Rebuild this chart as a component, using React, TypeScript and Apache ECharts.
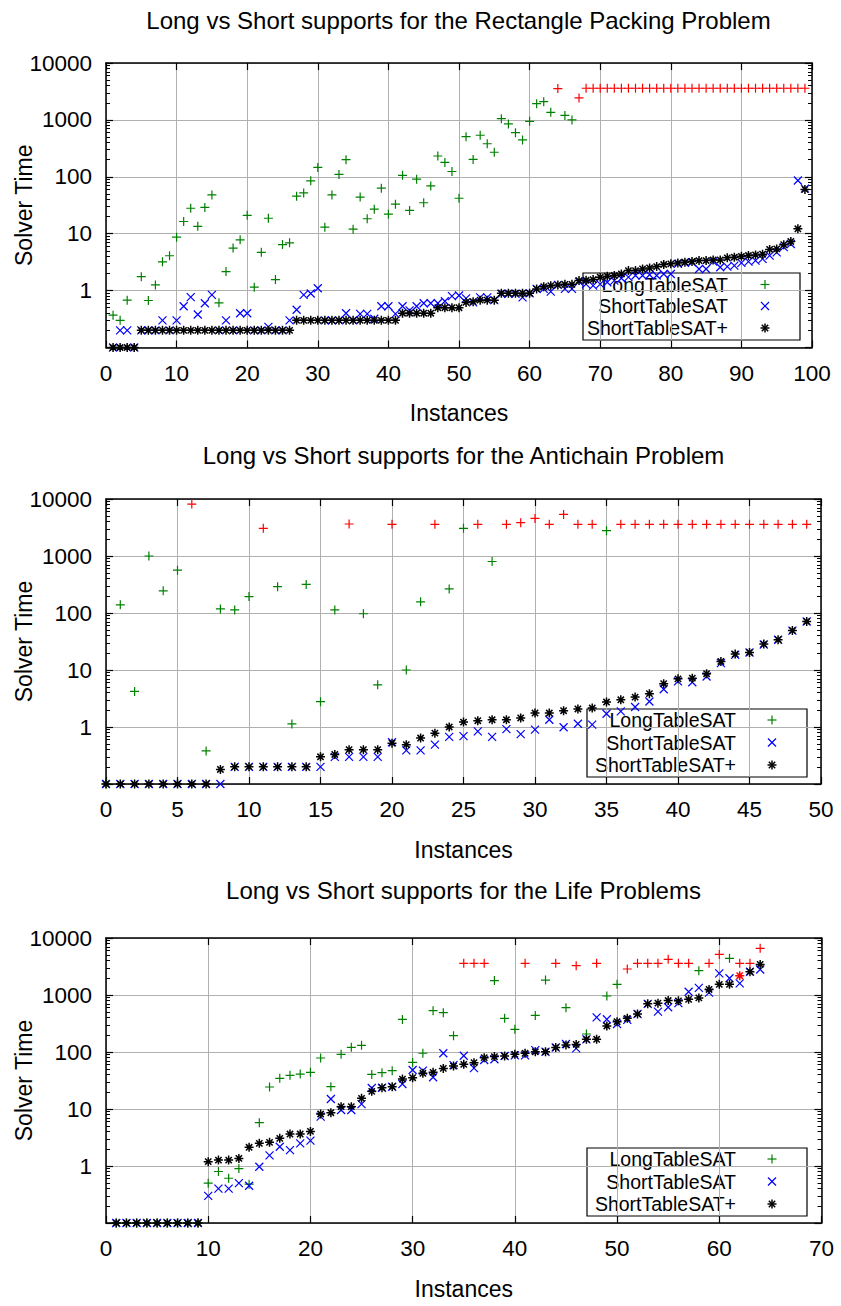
import React, { useEffect, useRef } from "react";
import * as echarts from "echarts";

const FONT = '"Liberation Sans", Arial, Helvetica, sans-serif';

const SERIES_NAMES = ["LongTableSAT", "ShortTableSAT", "ShortTableSAT+"];
const TITLES = [
  "Long vs Short supports for the Rectangle Packing Problem",
  "Long vs Short supports for the Antichain Problem",
  "Long vs Short supports for the Life Problems",
];
const X_LABEL = "Instances";
const Y_LABEL = "Solver Time";
const Y_MIN = 0.1;
const Y_MAX = 10000;

// ---------- Rectangle Packing (instances 1..99) ----------
const RECT_FIRST = 1;
const RECT_X_MAX = 100;
const RECT_X_STEP = 10;
const RECT_LONG = [
  0.37, 0.3, 0.68, 0.1, 1.76, 0.67, 1.26, 3.2, 4.1, 8.7,
  16.4, 28, 13.5, 29, 48, 0.61, 2.16, 5.6, 7.8, 21,
  1.15, 4.7, 18.7, 1.56, 6.45, 6.9, 45.7, 52, 85, 146,
  13, 48, 110, 200, 12, 44, 18.3, 27, 63, 22,
  33, 106, 25.6, 91, 35, 69, 232, 179, 124, 42,
  507, 202, 537, 381, 270, 1050, 850, 597, 444, 945,
  1930, 2090, 1360, 3550, 1200, 1000, 2430, 3600, 3600, 3600,
  3600, 3600, 3600, 3600, 3600, 3600, 3600, 3600, 3600, 3600,
  3600, 3600, 3600, 3600, 3600, 3600, 3600, 3600, 3600, 3600,
  3600, 3600, 3600, 3600, 3600, 3600, 3600, 3600, 3600,
];
const RECT_LONG_TIMEOUTS = [
  64, 67, 68, 69, 70, 71, 72, 73, 74, 75, 76, 77, 78, 79, 80, 81, 82, 83, 84,
  85, 86, 87, 88, 89, 90, 91, 92, 93, 94, 95, 96, 97, 98, 99,
];
const RECT_SHORT = [
  0.1, 0.2, 0.2, 0.1, 0.2, 0.2, 0.2, 0.3, 0.2, 0.3,
  0.53, 0.77, 0.38, 0.6, 0.84, 0.2, 0.3, 0.2, 0.4, 0.4,
  0.2, 0.2, 0.23, 0.2, 0.2, 0.3, 0.46, 0.84, 0.89, 1.1,
  0.3, 0.3, 0.3, 0.4, 0.3, 0.39, 0.39, 0.32, 0.53, 0.53,
  0.39, 0.53, 0.45, 0.53, 0.6, 0.6, 0.6, 0.65, 0.8, 0.82,
  0.73, 0.62, 0.76, 0.76, 0.68, 0.88, 0.88, 0.88, 0.76, 0.9,
  1.07, 1.07, 0.96, 1.26, 1.07, 1.07, 1.44, 1.3, 1.22, 1.3,
  1.4, 1.5, 1.65, 1.72, 1.84, 1.84, 1.9, 1.84, 1.96, 1.96,
  2.95, 3.07, 3.15, 2.4, 2.4, 3.24, 2.57, 2.64, 2.75, 3.07,
  3.24, 3.37, 3.6, 4.13, 4.7, 5.8, 6.6, 86, 62,
];
const RECT_SHORT_PLUS = [
  0.1, 0.1, 0.1, 0.1, 0.2, 0.2, 0.2, 0.2, 0.2, 0.2,
  0.2, 0.2, 0.2, 0.2, 0.2, 0.2, 0.2, 0.2, 0.2, 0.2,
  0.2, 0.2, 0.2, 0.2, 0.2, 0.2, 0.3, 0.3, 0.3, 0.3,
  0.3, 0.3, 0.3, 0.3, 0.3, 0.3, 0.3, 0.3, 0.3, 0.3,
  0.3, 0.4, 0.4, 0.4, 0.4, 0.4, 0.5, 0.5, 0.5, 0.5,
  0.62, 0.64, 0.68, 0.68, 0.68, 0.9, 0.9, 0.9, 0.9, 0.9,
  1.07, 1.17, 1.22, 1.26, 1.29, 1.29, 1.5, 1.52, 1.56, 1.72,
  1.79, 1.84, 1.96, 2.25, 2.25, 2.4, 2.5, 2.64, 2.87, 2.95,
  3.07, 3.15, 3.24, 3.37, 3.37, 3.46, 3.46, 3.76, 3.86, 4.0,
  4.13, 4.24, 4.36, 5.3, 5.4, 6.4, 7.3, 12.2, 60,
];
const RECT_SHORT_PLUS_TIMEOUTS: number[] = [];

// ---------- Antichain (instances 0..49) ----------
const ANTI_FIRST = 0;
const ANTI_X_MAX = 50;
const ANTI_X_STEP = 5;
const ANTI_LONG = [
  0.1, 139, 4.2, 1000, 245, 563, 8140, 0.38, 118, 113,
  194, 3060, 290, 1.13, 317, 2.78, 113, 3640, 97, 5.5,
  3600, 10, 157, 3600, 265, 3060, 3600, 800, 3600, 3840,
  4570, 3600, 5370, 3600, 3600, 2780, 3600, 3600, 3600, 3600,
  3600, 3600, 3600, 3600, 3600, 3600, 3600, 3600, 3600, 3600,
];
const ANTI_LONG_TIMEOUTS = [
  6, 11, 17, 20, 23, 26, 28, 29, 30, 31, 32, 33, 34, 36, 37, 38, 39, 40, 41,
  42, 43, 44, 45, 46, 47, 48, 49,
];
const ANTI_SHORT = [
  0.1, 0.1, 0.1, 0.1, 0.1, 0.1, 0.1, 0.1, 0.1, 0.2,
  0.2, 0.2, 0.2, 0.2, 0.2, 0.2, 0.3, 0.3, 0.3, 0.3,
  0.54, 0.39, 0.39, 0.49, 0.67, 0.69, 0.84, 0.67, 0.92, 0.75,
  0.9, 1.34, 0.99, 1.14, 1.1, 1.71, 1.88, 2.24, 2.8, 4.6,
  6.3, 6.1, 7.7, 13.2, 18.5, 20.3, 28, 34, 49, 71,
];
const ANTI_SHORT_PLUS = [
  0.1, 0.1, 0.1, 0.1, 0.1, 0.1, 0.1, 0.1, 0.18, 0.2,
  0.2, 0.2, 0.2, 0.2, 0.2, 0.3, 0.33, 0.4, 0.4, 0.4,
  0.52, 0.49, 0.64, 0.78, 1.0, 1.22, 1.29, 1.34, 1.34, 1.44,
  1.76, 1.76, 1.93, 2.07, 2.15, 2.74, 3.0, 3.35, 3.84, 5.75,
  7.0, 7.2, 8.6, 14.1, 19, 20.3, 28.5, 34, 49.3, 71,
];
const ANTI_SHORT_PLUS_TIMEOUTS: number[] = [];

// ---------- Life (instances 1..64) ----------
const LIFE_FIRST = 1;
const LIFE_X_MAX = 70;
const LIFE_X_STEP = 10;
const LIFE_LONG = [
  0.1, 0.1, 0.1, 0.1, 0.1, 0.1, 0.1, 0.1, 0.1, 0.5,
  0.8, 0.61, 0.9, 0.48, 5.75, 24.3, 34.5, 38.9, 41, 44,
  78.5, 24.6, 91, 121, 131, 40.5, 43.3, 47, 373, 65.6,
  95, 530, 490, 193, 3600, 3600, 3600, 1790, 390, 250,
  3600, 438, 1830, 3600, 600, 3270, 207, 3600, 960, 1540,
  2860, 3600, 3600, 3600, 4230, 3600, 3600, 2670, 3600, 5160,
  4400, 3600, 3600, 6600,
];
const LIFE_LONG_TIMEOUTS = [
  35, 36, 37, 41, 44, 46, 48, 51, 52, 53, 54, 55, 56, 57, 59, 60, 62, 63, 64,
];
const LIFE_SHORT = [
  0.1, 0.1, 0.1, 0.1, 0.1, 0.1, 0.1, 0.1, 0.1, 0.3,
  0.4, 0.4, 0.5, 0.45, 0.97, 1.54, 2.18, 1.9, 2.5, 2.78,
  7.35, 15, 9.6, 9.6, 12.2, 23.4, 23.6, 24.6, 27.4, 48.4,
  47, 36, 95, 59, 86, 52, 72.5, 74.5, 85, 87.5,
  87.5, 108, 101, 120, 138, 116, 167, 405, 375, 310,
  366, 465, 700, 510, 610, 720, 1140, 1330, 1100, 2400,
  1970, 1600, 2560, 2800,
];
const LIFE_SHORT_PLUS = [
  0.1, 0.1, 0.1, 0.1, 0.1, 0.1, 0.1, 0.1, 0.1, 1.19,
  1.27, 1.27, 1.36, 2.13, 2.5, 2.6, 3.06, 3.64, 3.64, 4.05,
  8.17, 8.6, 11, 11, 15.4, 20.4, 23.6, 24.6, 33.5, 35.4,
  42.3, 44, 51.6, 56.7, 60.7, 65, 79.5, 83, 85, 91,
  95, 101, 101, 120, 133, 136, 167, 167, 286, 340,
  390, 465, 700, 720, 800, 790, 840, 890, 1250, 1540,
  1540, 2180, 2560, 3440,
];
const LIFE_SHORT_PLUS_TIMEOUTS = [62];

const PANEL_DATA = [
  { first: RECT_FIRST, xMax: RECT_X_MAX, xStep: RECT_X_STEP, long: RECT_LONG, longTO: RECT_LONG_TIMEOUTS, short: RECT_SHORT, plus: RECT_SHORT_PLUS, plusTO: RECT_SHORT_PLUS_TIMEOUTS },
  { first: ANTI_FIRST, xMax: ANTI_X_MAX, xStep: ANTI_X_STEP, long: ANTI_LONG, longTO: ANTI_LONG_TIMEOUTS, short: ANTI_SHORT, plus: ANTI_SHORT_PLUS, plusTO: ANTI_SHORT_PLUS_TIMEOUTS },
  { first: LIFE_FIRST, xMax: LIFE_X_MAX, xStep: LIFE_X_STEP, long: LIFE_LONG, longTO: LIFE_LONG_TIMEOUTS, short: LIFE_SHORT, plus: LIFE_SHORT_PLUS, plusTO: LIFE_SHORT_PLUS_TIMEOUTS },
];

// ---------- layout / style ----------
const LAYOUT = [
  { left: 106, top: 63, width: 706, height: 284.5, titleX: 458.5, titleY: 20,
    legend: { x0: 583, y0: 273, x1: 800, y1: 340, rows: [284.5, 306, 328], textRight: 728, symX: 765 } },
  { left: 106, top: 499, width: 715, height: 285, titleX: 463.5, titleY: 455,
    legend: { x0: 587, y0: 709, x1: 807, y1: 777, rows: [720, 742.5, 765], textRight: 736, symX: 772 } },
  { left: 106, top: 938, width: 715.5, height: 285, titleX: 463.5, titleY: 890,
    legend: { x0: 587, y0: 1148, x1: 807, y1: 1216, rows: [1159, 1181.5, 1204], textRight: 736, symX: 772 } },
];

const GREEN = "#008000";
const BLUE = "#0000ff";
const BLACK = "#000000";
const RED = "#ff0000";
const GRID_GRAY = "#b0b0b0";

const PLUS = "path://M0,5L10,5M5,0L5,10";
const CROSS = "path://M0,0L10,10M10,0L0,10";
const STAR = "path://M0,5L10,5M5,0L5,10M1.5,1.5L8.5,8.5M8.5,1.5L1.5,8.5";

const MINOR_TICKS: number[] = [];
[0.1, 1, 10, 100, 1000].forEach((d) => {
  for (let m = 2; m <= 9; m++) MINOR_TICKS.push(+(d * m).toPrecision(3));
});

function points(first: number, values: number[], timeouts: number[], timedOut: boolean) {
  const out: number[][] = [];
  values.forEach((v, k) => {
    const idx = first + k;
    if (timeouts.includes(idx) === timedOut) out.push([idx, v]);
  });
  return out;
}

function scatter(name: string, g: number, data: number[][], symbol: string, size: number, color: string, lw: number) {
  return {
    type: "scatter",
    name,
    xAxisIndex: g * 2,
    yAxisIndex: g * 4,
    data,
    symbol,
    symbolSize: size,
    silent: true,
    itemStyle: { color: "none", borderColor: color, borderWidth: lw, opacity: 1 },
    emphasis: { disabled: true },
  };
}

function symbolLines(kind: string, cx: number, cy: number, color: string) {
  const r = 4.5;
  const d = 3.2;
  const lines: number[][] = [];
  if (kind === "plus" || kind === "star") {
    lines.push([cx - r, cy, cx + r, cy], [cx, cy - r, cx, cy + r]);
  }
  if (kind === "cross") {
    lines.push([cx - 4, cy - 4, cx + 4, cy + 4], [cx + 4, cy - 4, cx - 4, cy + 4]);
  }
  if (kind === "star") {
    lines.push([cx - d, cy - d, cx + d, cy + d], [cx + d, cy - d, cx - d, cy + d]);
  }
  return lines.map((l) => ({
    type: "line",
    silent: true,
    shape: { x1: l[0], y1: l[1], x2: l[2], y2: l[3] },
    style: { stroke: color, lineWidth: kind === "star" ? 1.5 : 1.2 },
  }));
}

function buildOption() {
  const grid: any[] = [];
  const xAxis: any[] = [];
  const yAxis: any[] = [];
  const series: any[] = [];
  const graphic: any[] = [];

  LAYOUT.forEach((L, g) => {
    const P = PANEL_DATA[g];
    grid.push({
      left: L.left, top: L.top, width: L.width, height: L.height,
      containLabel: false, outerBoundsMode: "none",
    });

    const tickLabel = { fontSize: 22.5, color: "#000", fontFamily: FONT };
    xAxis.push({
      type: "value", gridIndex: g, min: 0, max: P.xMax, interval: P.xStep, position: "bottom",
      axisLine: { show: true, onZero: false, lineStyle: { color: "#000", width: 1.5 } },
      axisTick: { show: true, inside: true, length: 7, lineStyle: { color: "#000", width: 1.2 } },
      axisLabel: { ...tickLabel, margin: 14 },
      splitLine: { show: true, lineStyle: { color: GRID_GRAY, width: 1 } },
      name: X_LABEL, nameLocation: "middle", nameGap: 54, nameMoveOverlap: false,
      nameTextStyle: { fontSize: 23, color: "#000", fontFamily: FONT },
    });
    xAxis.push({
      type: "value", gridIndex: g, min: 0, max: P.xMax, interval: P.xStep, position: "top",
      axisLine: { show: true, onZero: false, lineStyle: { color: "#000", width: 1.5 } },
      axisTick: { show: true, inside: true, length: 7, lineStyle: { color: "#000", width: 1.2 } },
      axisLabel: { show: false }, splitLine: { show: false },
    });

    const logBase = { type: "log", logBase: 10, gridIndex: g, min: Y_MIN, max: Y_MAX };
    yAxis.push({
      ...logBase, position: "left",
      axisLine: { show: true, onZero: false, lineStyle: { color: "#000", width: 1.5 } },
      axisTick: { show: true, inside: true, length: 7, lineStyle: { color: "#000", width: 1.2 } },
      axisLabel: {
        ...tickLabel, margin: 14,
        formatter: (v: number) => (v >= 0.99 ? String(Math.round(v)) : ""),
      },
      splitLine: { show: true, lineStyle: { color: GRID_GRAY, width: 1 } },
      name: Y_LABEL, nameLocation: "middle", nameGap: 71, nameRotate: 90, nameMoveOverlap: false,
      nameTextStyle: { fontSize: 23, color: "#000", fontFamily: FONT },
    });
    yAxis.push({
      ...logBase, position: "left",
      axisLine: { show: false, onZero: false },
      axisTick: { show: true, inside: true, length: 4, customValues: MINOR_TICKS, lineStyle: { color: "#000", width: 1 } },
      axisLabel: { show: false }, splitLine: { show: false },
    });
    yAxis.push({
      ...logBase, position: "right",
      axisLine: { show: true, onZero: false, lineStyle: { color: "#000", width: 1.5 } },
      axisTick: { show: true, inside: true, length: 7, lineStyle: { color: "#000", width: 1.2 } },
      axisLabel: { show: false }, splitLine: { show: false },
    });
    yAxis.push({
      ...logBase, position: "right",
      axisLine: { show: false, onZero: false },
      axisTick: { show: true, inside: true, length: 4, customValues: MINOR_TICKS, lineStyle: { color: "#000", width: 1 } },
      axisLabel: { show: false }, splitLine: { show: false },
    });

    series.push(scatter(SERIES_NAMES[0], g, points(P.first, P.long, P.longTO, false), PLUS, 9, GREEN, 1.2));
    series.push(scatter(SERIES_NAMES[0] + " (time-out)", g, points(P.first, P.long, P.longTO, true), PLUS, 9, RED, 1.2));
    series.push(scatter(SERIES_NAMES[1], g, points(P.first, P.short, [], false), CROSS, 8, BLUE, 1.2));
    series.push(scatter(SERIES_NAMES[2], g, points(P.first, P.plus, P.plusTO, false), STAR, 9, BLACK, 1.5));
    if (P.plusTO.length) {
      series.push(scatter(SERIES_NAMES[2] + " (time-out)", g, points(P.first, P.plus, P.plusTO, true), STAR, 9, RED, 1.5));
    }

    // title
    graphic.push({
      type: "text", silent: true, x: L.titleX, y: L.titleY,
      style: { text: TITLES[g], fill: "#000", font: `24px ${FONT}`, textAlign: "center", textVerticalAlign: "middle" },
    });

    // legend box
    const lg = L.legend;
    graphic.push({
      type: "rect", silent: true,
      shape: { x: lg.x0, y: lg.y0, width: lg.x1 - lg.x0, height: lg.y1 - lg.y0 },
      style: { fill: "none", stroke: "#000", lineWidth: 1.2 },
    });
    const kinds = ["plus", "cross", "star"];
    const colors = [GREEN, BLUE, BLACK];
    SERIES_NAMES.forEach((nm, k) => {
      graphic.push({
        type: "text", silent: true, x: lg.textRight, y: lg.rows[k],
        style: { text: nm, fill: "#000", font: `19.5px ${FONT}`, textAlign: "right", textVerticalAlign: "middle" },
      });
      symbolLines(kinds[k], lg.symX, lg.rows[k], colors[k]).forEach((e) => graphic.push(e));
    });
  });

  return {
    animation: false,
    backgroundColor: "#ffffff",
    textStyle: { fontFamily: FONT },
    grid,
    xAxis,
    yAxis,
    series,
    graphic: { elements: graphic },
  };
}

export default function App() {
  const ref = useRef<HTMLDivElement>(null);
  useEffect(() => {
    if (!ref.current) return;
    const chart = echarts.init(ref.current, null, { renderer: "svg" });
    chart.setOption(buildOption() as any);
    return () => chart.dispose();
  }, []);
  return (
    <div
      ref={ref}
      style={{ position: "absolute", left: 0, top: 0, width: 841, height: 1306, background: "#fff" }}
    />
  );
}
